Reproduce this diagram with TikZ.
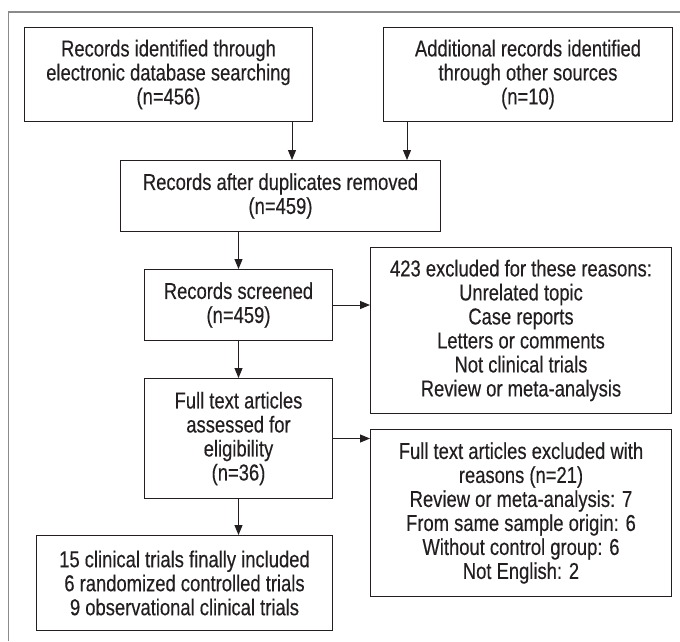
\documentclass[tikz,border=0pt]{standalone}
\usepackage{fontspec}
\setmainfont{Liberation Sans}[FakeStretch=0.8,FakeBold=0.35]
\usetikzlibrary{arrows.meta}
\definecolor{ink}{HTML}{231F20}
\definecolor{frame}{HTML}{8A8A8A}
\begin{document}
\begin{tikzpicture}[x=1pt,y=-1pt,
  box/.style={draw=ink,line width=1pt,text=ink,align=center,inner sep=0pt,
    font=\fontsize{23}{24}\selectfont,anchor=north west},
  arr/.style={draw=ink,line width=1pt,-{Triangle[length=10pt,width=8pt]}}]
\useasboundingbox (0,0) rectangle (680,641);
\draw[frame,line width=1.2pt] (8.5,641) -- (8.5,12) -- (680,12);
\node[box,minimum width=288,minimum height=94] (b1) at (24,27)
  {Records identified through\\electronic database searching\\(n=456)};
\node[box,minimum width=289,minimum height=94] (b2) at (383,27)
  {Additional records identified\\through other sources\\(n=10)};
\node[box,minimum width=320,minimum height=71] (b3) at (120,160)
  {Records after duplicates removed\\(n=459)};
\node[box,minimum width=188,minimum height=71] (b4) at (144,269)
  {Records screened\\(n=459)};
\node[box,minimum width=301,minimum height=166] (b5) at (370,247)
  {423 excluded for these reasons:\\Unrelated topic\\Case reports\\Letters or comments\\Not clinical trials\\Review or meta-analysis};
\node[box,minimum width=188,minimum height=120] (b6) at (144,378)
  {Full text articles\\assessed for\\eligibility\\(n=36)};
\node[box,minimum width=301,minimum height=167] (b7) at (370,429)
  {Full text articles excluded with\\reasons (n=21)\\Review or meta-analysis: 7\\From same sample origin: 6\\Without control group: 6\\Not English: 2};
\node[box,minimum width=296,minimum height=95] (b8) at (36,535)
  {15 clinical trials finally included\\6 randomized controlled trials\\9 observational clinical trials};
\coordinate (a1) at ([xshift=-21pt]b1.south east);
\coordinate (a2) at ([xshift=24pt]b2.south west);
\draw[arr] (a1) -- (a1 |- b3.north);
\draw[arr] (a2) -- (a2 |- b3.north);
\draw[arr] (b3.south -| b4.north) -- (b4.north);
\draw[arr] (b4.east) -- (b4.east -| b5.west);
\draw[arr] (b4.south) -- (b6.north);
\draw[arr] (b6.east) -- (b6.east -| b7.west);
\draw[arr] (b6.south) -- (b6.south |- b8.north);
\end{tikzpicture}
\end{document}
